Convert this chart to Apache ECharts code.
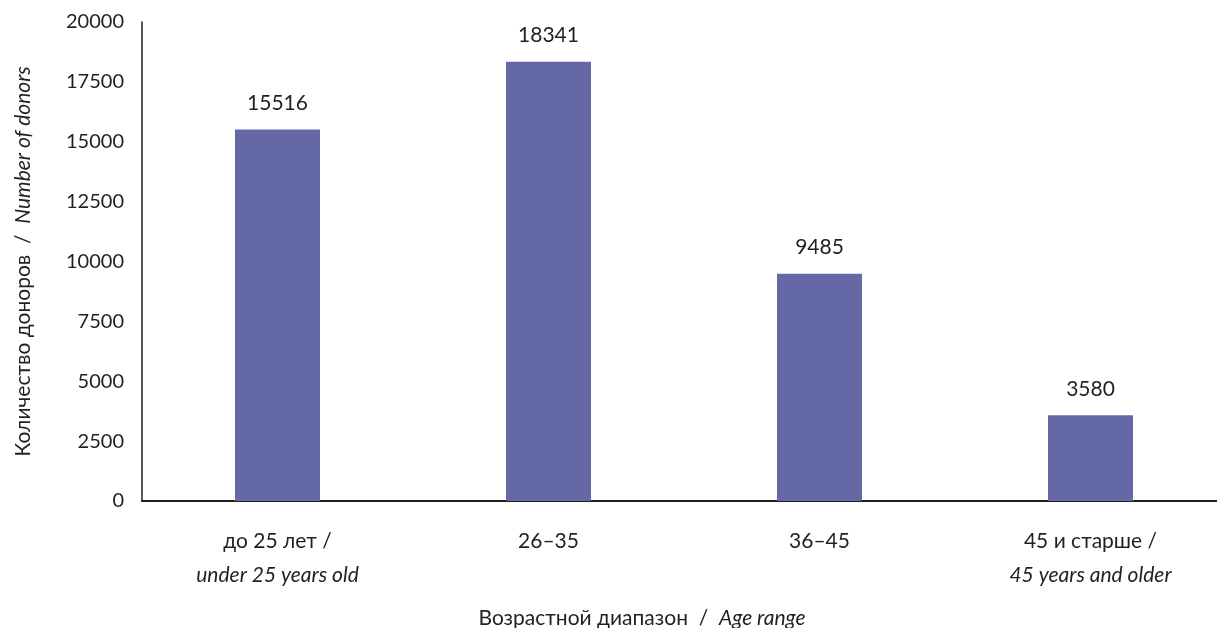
<!DOCTYPE html>
<html>
<head>
<meta charset="utf-8">
<style>
  html, body { margin: 0; padding: 0; background: #ffffff; }
  #chart { width: 1217px; height: 628px; }
</style>
<script src="https://cdn.jsdelivr.net/npm/echarts@6/dist/echarts.min.js"></script>
</head>
<body>
<div id="chart"></div>
<script>
// Donors by age range
const categories = [
  ['до 25 лет /', 'under 25 years old'],
  ['26–35', ''],
  ['36–45', ''],
  ['45 и старше /', '45 years and older']
];
const donorCounts = [15516, 18341, 9485, 3580];
const yTicks = { min: 0, max: 20000, interval: 2500 };

const FONT = 'Lato, "Open Sans", sans-serif';
const INK = '#231f20';
const BAR = '#6469a6';

const plain = (size, lh) => ({ fontFamily: FONT, fontSize: size, color: INK, fontWeight: 'normal', lineHeight: lh });
const ital = (size, lh) => ({ fontFamily: FONT, fontSize: size, color: INK, fontWeight: 'normal', fontStyle: 'italic', lineHeight: lh });

const chart = echarts.init(document.getElementById('chart'), null, { renderer: 'canvas' });

chart.setOption({
  animation: false,
  backgroundColor: '#ffffff',
  textStyle: { fontFamily: FONT, color: INK },
  grid: { left: 142, top: 22, width: 1084, height: 479, containLabel: false, outerBoundsMode: 'none' },
  title: {
    text: '{n|Возрастной диапазон  /  }{i|Age range}',
    left: 637,
    top: 600,
    textAlign: 'center',
    textStyle: {
      fontWeight: 'normal',
      rich: { n: plain(21, 26), i: ital(21, 26) }
    }
  },
  xAxis: {
    type: 'category',
    data: categories.map(c => c[0] + '\n' + c[1]),
    axisLine: { lineStyle: { color: INK, width: 2 } },
    axisTick: { show: false },
    axisLabel: {
      margin: 23,
      interval: 0,
      formatter: (v) => {
        const [a, b] = v.split('\n');
        return b ? '{n|' + a + '}\n{i|' + b + '}' : '{n|' + a + '}';
      },
      rich: { n: plain(21, 34), i: ital(21, 34) },
      verticalAlign: 'top'
    }
  },
  yAxis: {
    type: 'value',
    min: yTicks.min,
    max: yTicks.max,
    interval: yTicks.interval,
    axisLine: { show: true, lineStyle: { color: INK, width: 1.5 } },
    axisTick: { show: false },
    splitLine: { show: false },
    axisLabel: { margin: 18, fontSize: 20, color: INK, fontFamily: FONT, formatter: (v) => String(v) },
    name: '{n|Количество доноров  /  }{i|Number of donors}',
    nameLocation: 'middle',
    nameGap: 108,
    nameRotate: 90,
    nameTextStyle: {
      rich: { n: plain(21), i: ital(21) }
    }
  },
  series: [{
    type: 'bar',
    data: donorCounts,
    barWidth: 85,
    itemStyle: { color: BAR },
    label: {
      show: true,
      position: 'top',
      distance: 16,
      fontSize: 21,
      color: INK,
      fontFamily: FONT
    }
  }]
});
</script>
</body>
</html>
